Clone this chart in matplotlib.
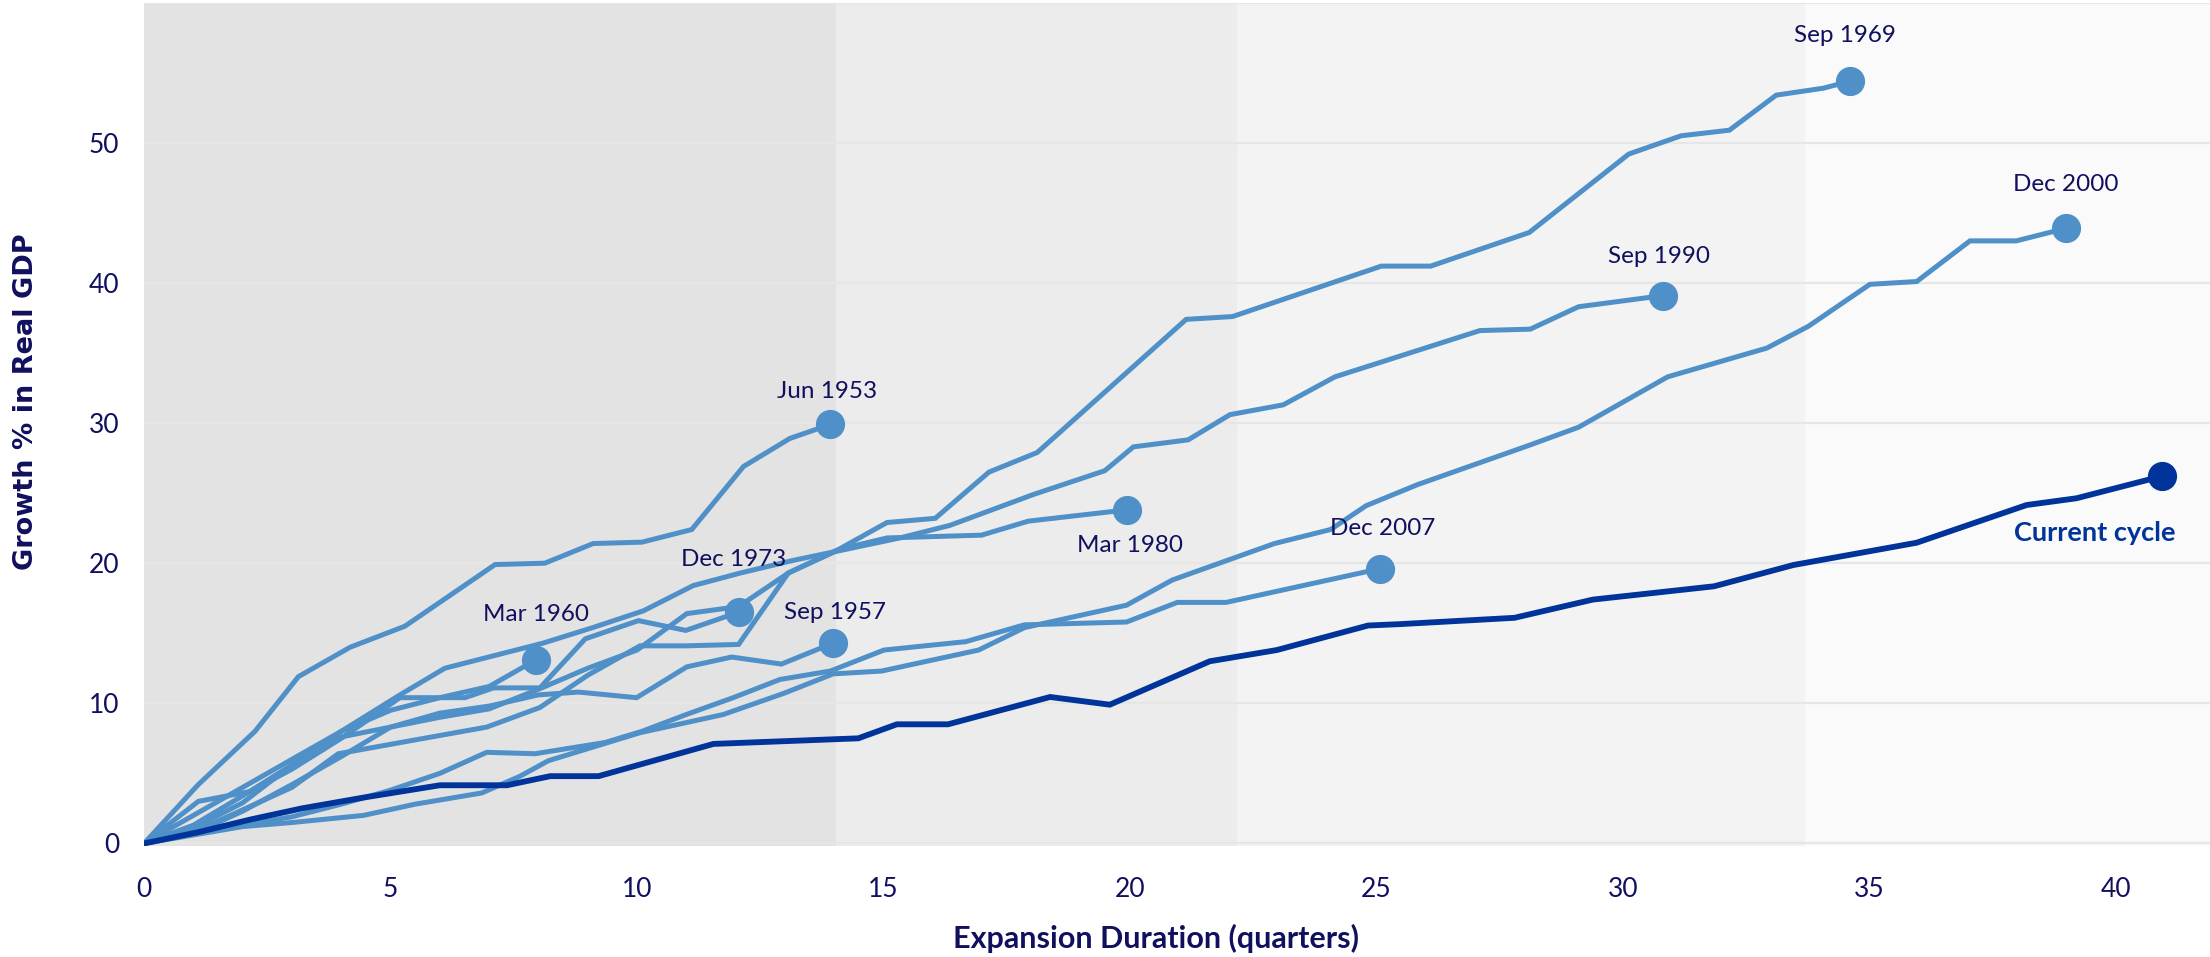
import matplotlib
matplotlib.use('Agg')
import matplotlib.pyplot as plt

# Накопленный рост реального ВВП (%) по кварталам от начала подъёма
jun1953_x = [0, 1.1, 2.25, 3.13, 4.18, 5.29, 7.12, 8.13, 9.11, 10.1, 11.11, 12.16, 13.1, 13.92]
jun1953_y = [0, 4.2, 8.0, 11.9, 14.0, 15.5, 19.9, 20.0, 21.4, 21.5, 22.4, 26.9, 28.9, 29.9]

sep1957_x = [0, 1, 2, 3, 4, 5, 6, 7, 8, 8.81, 9.99, 11.01, 11.92, 12.93, 13.98]
sep1957_y = [0, 1.1, 2.9, 5.6, 7.6, 8.3, 9.3, 9.8, 10.6, 10.8, 10.4, 12.6, 13.3, 12.8, 14.3]

mar1960_x = [0, 1, 2, 3, 4, 5, 6, 7, 7.95]
mar1960_y = [0, 2.0, 4.0, 6.0, 8.0, 9.5, 10.4, 11.2, 13.1]

sep1969_x = [0, 1, 2, 3, 4, 5, 6, 7, 8, 9, 10, 11.01, 12.06, 13.07, 14.1, 15.07, 16.05,
             17.14, 18.12, 21.14, 22.08, 25.1, 26.1, 28.1, 30.12, 31.18, 32.16, 33.11,
             34.07, 34.61]
sep1969_y = [0, 0.7, 2.3, 4.2, 6.2, 8.3, 9.0, 9.6, 11.0, 12.5, 13.8, 16.4, 16.9, 19.3, 21.0,
             22.9, 23.2, 26.5, 27.9, 37.4, 37.6, 41.2, 41.2, 43.6, 49.2, 50.5, 50.9, 53.4,
             53.9, 54.4]

dec1973_x = [0, 1.1, 2.15, 3, 4, 5.19, 6.51, 7.09, 8.03, 8.95, 10.03, 10.99, 12.06]
dec1973_y = [0, 3.0, 3.7, 5.3, 7.5, 10.4, 10.4, 11.1, 11.1, 14.6, 15.9, 15.2, 16.5]

mar1980_x = [0, 1, 2, 3, 3.94, 5.36, 6.95, 8.03, 9, 10.06, 11, 12.06, 13.07, 14.12, 15.07,
             16.99, 17.94, 19.93]
mar1980_y = [0, 0.8, 2.4, 4.0, 6.4, 7.3, 8.3, 9.7, 12.0, 14.1, 14.1, 14.2, 19.3, 21.0, 21.8,
             22.0, 23.0, 23.8]

sep1990_x = [0, 1, 2, 3, 4, 5.19, 6.1, 7.1, 8.1, 9.1, 10.13, 11.14, 12.1, 13.17, 14.12,
             15.33, 16.35, 18.04, 19.49, 20.07, 21.18, 22.03, 23.11, 24.16, 27.1, 28.12,
             29.1, 30.82]
sep1990_y = [0, 1.3, 3.4, 5.6, 8.0, 10.6, 12.5, 13.4, 14.3, 15.4, 16.6, 18.4, 19.3, 20.2,
             20.9, 21.8, 22.7, 24.9, 26.6, 28.3, 28.8, 30.6, 31.3, 33.3, 36.6, 36.7, 38.3,
             39.1]

dec2000_x = [0, 1, 2, 3.03, 4.45, 5.5, 6.85, 7.63, 8.2, 10.06, 11.75, 12.97, 13.98, 14.96,
             16.93, 17.86, 19.93, 20.86, 22.93, 24.07, 24.79, 25.83, 28.09, 29.1, 30.91,
             32.92, 33.76, 35.01, 35.96, 37.04, 37.98, 38.99]
dec2000_y = [0, 0.6, 1.2, 1.5, 2.0, 2.8, 3.6, 4.8, 5.9, 7.9, 9.2, 10.7, 12.1, 12.3, 13.8,
             15.4, 17.0, 18.8, 21.4, 22.4, 24.1, 25.6, 28.4, 29.7, 33.3, 35.35, 36.9, 39.9,
             40.1, 43.0, 43.0, 43.9]

dec2007_x = [0, 1, 2, 3, 4, 5, 6, 6.95, 7.93, 9.35, 10.1, 11.0, 11.95, 12.9, 13.92, 15.01,
             16.67, 17.86, 19.93, 20.96, 21.95, 25.07]
dec2007_y = [0, 0.7, 1.3, 1.9, 2.8, 3.8, 5.0, 6.5, 6.4, 7.2, 8.0, 9.2, 10.4, 11.7, 12.3, 13.8,
             14.4, 15.6, 15.8, 17.2, 17.2, 19.6]

current_x = [0, 1.1, 2.15, 3.2, 4.5, 6.0, 7.36, 8.24, 9.22, 11.55, 14.49, 15.27, 16.31,
             18.38, 19.59, 21.62, 22.98, 24.83, 25.48, 27.8, 29.39, 31.85, 33.46, 35.96,
             37.07, 38.19, 39.2, 40.93]
current_y = [0, 0.8, 1.7, 2.5, 3.3, 4.15, 4.15, 4.8, 4.8, 7.1, 7.5, 8.5, 8.5, 10.45, 9.9,
             13.0, 13.8, 15.55, 15.65, 16.1, 17.4, 18.35, 19.87, 21.46, 22.8, 24.15, 24.63,
             26.2]

cycle_names = ['Jun 1953', 'Sep 1957', 'Mar 1960', 'Sep 1969', 'Dec 1973',
               'Mar 1980', 'Sep 1990', 'Dec 2000', 'Dec 2007']

# Границы фоновых полос по оси кварталов
band_edges = [0, 14.04, 22.18, 33.69, 41.91]

LIGHT = '#4f90c8'
DARK = '#00349a'
TEXT = '#10105e'
BAND_COLORS = ['#e3e3e3', '#ececec', '#f3f3f3', '#fafafa']


def draw_background(ax):
    """
    Фоновые полосы и горизонтальная сетка.
    """
    for left, right, color in zip(band_edges[:-1], band_edges[1:], BAND_COLORS):
        ax.axvspan(left, right, color=color, lw=0, zorder=0)

    for level in range(0, 70, 10):
        ax.axhline(level, color='#e6e6e6', lw=1.6, zorder=1)


def draw_cycles(ax):
    """
    Прошлые циклы (светлые линии) и текущий цикл.
    """
    series = [(jun1953_x, jun1953_y), (sep1957_x, sep1957_y), (mar1960_x, mar1960_y),
              (sep1969_x, sep1969_y), (dec1973_x, dec1973_y), (mar1980_x, mar1980_y),
              (sep1990_x, sep1990_y), (dec2000_x, dec2000_y), (dec2007_x, dec2007_y)]

    # Смещения подписей от конечной точки, в пикселях
    offsets = {'Jun 1953': (-3, 33), 'Sep 1957': (2, 31), 'Mar 1960': (0, 45),
               'Sep 1969': (-5, 46), 'Dec 1973': (-5, 53), 'Mar 1980': (3, -36),
               'Sep 1990': (-4, 39), 'Dec 2000': (0, 44), 'Dec 2007': (3, 40)}

    for name, (xs, ys) in zip(cycle_names, series):
        ax.plot(xs, ys, color=LIGHT, lw=3.6, solid_joinstyle='miter', zorder=3)
        ax.plot(xs[-1], ys[-1], 'o', color=LIGHT, ms=20, zorder=4)
        ax.annotate(name, (xs[-1], ys[-1]), xytext=offsets[name],
                    textcoords='offset pixels', ha='center', va='center',
                    fontsize=17.5, color=TEXT, zorder=6)

    ax.plot(current_x, current_y, color=DARK, lw=4.2, solid_joinstyle='miter', zorder=5)
    ax.plot(current_x[-1], current_y[-1], 'o', color=DARK, ms=20, zorder=5)
    ax.annotate('Current cycle', (current_x[-1], current_y[-1]), xytext=(14, -57),
                textcoords='offset pixels', ha='right', va='center',
                fontsize=19.5, fontweight='bold', color=DARK, zorder=6)


def main():
    plt.rcParams['font.family'] = ['Lato', 'DejaVu Sans']

    fig = plt.figure(figsize=(22.1, 9.57), dpi=100)
    ax = fig.add_axes([0.0652, 0.1165, 0.9348, 0.8807])

    draw_background(ax)
    draw_cycles(ax)

    ax.set_xlim(band_edges[0], band_edges[-1])
    ax.set_ylim(-0.15, 60)
    ax.set_xticks(range(0, 45, 5))
    ax.set_yticks(range(0, 60, 10))
    ax.tick_params(length=0, labelsize=19, labelcolor=TEXT)
    ax.tick_params(axis='x', pad=23)
    ax.tick_params(axis='y', pad=18)
    for spine in ax.spines.values():
        spine.set_visible(False)

    fig.text(1156 / 2210, 1 - 938 / 957, 'Expansion Duration (quarters)',
             ha='center', va='center', fontsize=22, fontweight='bold', color=TEXT)
    fig.text(26 / 2210, 1 - 402 / 957, 'Growth % in Real GDP', rotation=90,
             ha='center', va='center', fontsize=19.5, fontweight='bold', color=TEXT,
             family='DejaVu Sans')

    fig.savefig('out.png', dpi=100, facecolor='white')


if __name__ == '__main__':
    main()
